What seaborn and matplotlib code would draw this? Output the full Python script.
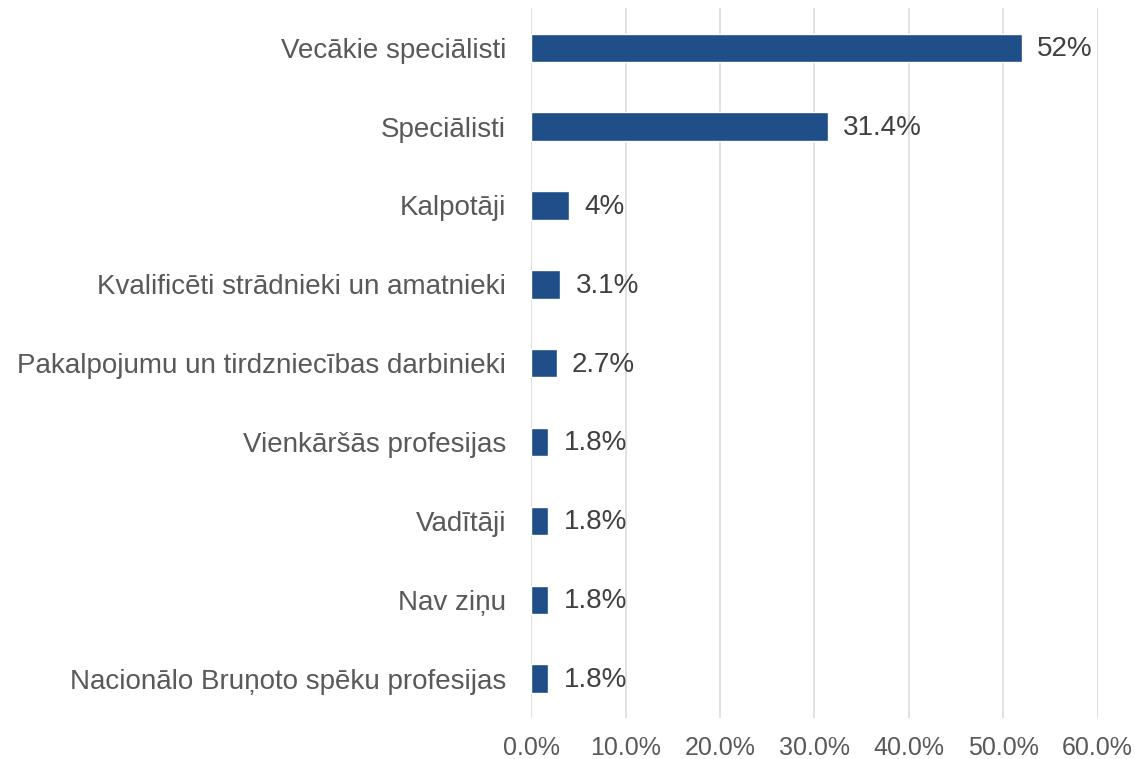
"""
Horizontal bar chart: occupation groups share (Latvian labels).
"""

import matplotlib.pyplot as plt
import pandas as pd
import seaborn as sns
from matplotlib.ticker import PercentFormatter

categories = [
    "Vecākie speciālisti",
    "Speciālisti",
    "Kalpotāji",
    "Kvalificēti strādnieki un amatnieki",
    "Pakalpojumu un tirdzniecības darbinieki",
    "Vienkāršās profesijas",
    "Vadītāji",
    "Nav ziņu",
    "Nacionālo Bruņoto spēku profesijas",
]
shares = [52, 31.4, 4, 3.1, 2.7, 1.8, 1.8, 1.8, 1.8]

BAR_COLOR = "#1f4e89"
LABEL_COLOR = "#595959"
VALUE_COLOR = "#404040"
GRID_COLOR = "#d9d9d9"


def main():
    sns.set_theme(style="white")
    plt.rcParams["font.family"] = ["Liberation Sans", "DejaVu Sans"]

    df = pd.DataFrame({"category": categories, "share": shares})

    fig = plt.figure(figsize=(11.35, 7.59), dpi=100)
    ax = fig.add_axes([0.468, 0.054, 0.499, 0.935])

    sns.barplot(
        data=df,
        x="share",
        y="category",
        orient="h",
        color=BAR_COLOR,
        saturation=1,
        width=0.36,
        ax=ax,
    )

    # value labels to the right of bars
    for i, v in enumerate(shares):
        ax.annotate(
            f"{v:g}%",
            xy=(v, i),
            xytext=(11, -1),
            textcoords="offset points",
            va="center",
            ha="left",
            fontsize=20,
            color=VALUE_COLOR,
        )

    ax.set_xlim(0, 60)
    ax.set_ylim(8.5, -0.5)
    ax.set_xticks(range(0, 61, 10))
    ax.xaxis.set_major_formatter(PercentFormatter(decimals=1))
    ax.set_xlabel("")
    ax.set_ylabel("")

    ax.grid(axis="x", color=GRID_COLOR, linewidth=1.1)
    ax.grid(axis="y", visible=False)
    ax.set_axisbelow(True)
    for spine in ax.spines.values():
        spine.set_visible(False)

    ax.tick_params(axis="y", length=0, pad=18, labelsize=20, labelcolor=LABEL_COLOR)
    ax.tick_params(axis="x", length=0, pad=13, labelsize=18, labelcolor=LABEL_COLOR)

    plt.savefig("out.png", dpi=100)
    plt.close()


if __name__ == "__main__":
    main()
